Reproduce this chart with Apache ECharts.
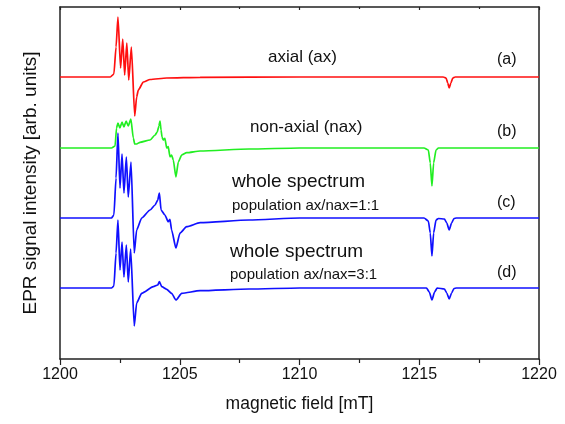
<!DOCTYPE html>
<html>
<head>
<meta charset="utf-8">
<script src="https://cdn.jsdelivr.net/npm/echarts@6/dist/echarts.min.js"></script>
<style>
  html, body { margin: 0; padding: 0; background: #fff; }
  #chart { width: 565px; height: 424px; }
</style>
</head>
<body>
<div id="chart"></div>
<script>
// EPR spectra: [magnetic field (mT), signal (arb. units)] relative to each trace's own baseline
const spectrumAx = [
  [1200, 0], [1202.10, 0], [1202.25, 3], [1202.34, 30], [1202.42, 60],
  [1202.53, 9], [1202.62, 38], [1202.70, 2], [1202.79, 34], [1202.87, -3],
  [1202.98, 30], [1203.12, -39], [1203.20, -20], [1203.27, -13], [1203.48, -5],
  [1203.76, -2.5], [1204.45, -1], [1205.85, -0.4], [1210, 0],
  [1216.00, 0], [1216.12, -1], [1216.19, -6], [1216.25, -11], [1216.32, -6],
  [1216.40, -1], [1216.50, 0], [1220, 0]
];

const spectrumNax = [
  [1200, 0], [1202.15, 0], [1202.30, 2], [1202.36, 20], [1202.42, 25],
  [1202.50, 20], [1202.59, 26], [1202.67, 21], [1202.76, 27], [1202.85, 22],
  [1202.96, 29], [1203.06, 10], [1203.12, 4], [1203.20, 4], [1203.34, 5.7],
  [1203.76, 8], [1203.97, 13], [1204.06, 16], [1204.13, 22], [1204.175, 27],
  [1204.22, 18], [1204.26, 11], [1204.31, 8], [1204.38, 9.7], [1204.455, 0],
  [1204.52, 1.3], [1204.59, -8.7], [1204.66, -7], [1204.73, -12], [1204.84, -29],
  [1204.94, -14], [1205.08, -7], [1205.29, -4.7], [1205.85, -3], [1207.90, -1],
  [1210, 0], [1215.20, 0], [1215.38, -2], [1215.46, -15], [1215.53, -38],
  [1215.60, -15], [1215.70, -2], [1215.80, 0], [1220, 0]
];

const spectrumMix11 = [
  [1200, 0], [1202.15, 0], [1202.25, 3], [1202.34, 40], [1202.42, 85],
  [1202.505, 30], [1202.59, 64], [1202.67, 25], [1202.77, 61], [1202.85, 21],
  [1202.965, 56], [1203.10, -35], [1203.20, -12], [1203.41, 0], [1203.76, 8],
  [1203.97, 13], [1204.08, 18], [1204.15, 25], [1204.22, 8], [1204.38, 3],
  [1204.52, -3.7], [1204.59, -1.3], [1204.66, -12], [1204.84, -30], [1205.01, -15],
  [1205.29, -8.7], [1205.85, -4.7], [1207.90, -2], [1210, 0],
  [1215.20, 0], [1215.38, -3], [1215.46, -15], [1215.53, -38], [1215.60, -15],
  [1215.70, -2], [1215.80, -0.5], [1216.05, -1], [1216.15, -5], [1216.25, -12],
  [1216.35, -5], [1216.45, -0.5], [1216.55, 0], [1220, 0]
];

const spectrumMix31 = [
  [1200, 0], [1202.15, 0], [1202.25, 2], [1202.34, 35], [1202.42, 68],
  [1202.505, 18], [1202.59, 46], [1202.67, 11], [1202.77, 43], [1202.85, 6],
  [1202.95, 39], [1203.10, -38], [1203.20, -15], [1203.41, -5.3], [1203.90, 1.3],
  [1204.08, 3], [1204.15, 6.3], [1204.25, 1.3], [1204.455, -1.3], [1204.66, -5.3],
  [1204.84, -12], [1205.08, -5.3], [1205.85, -2.7], [1207.90, -1], [1210, 0],
  [1215.30, 0], [1215.42, -4], [1215.53, -12], [1215.64, -4], [1215.75, 0],
  [1216.05, -1], [1216.15, -5], [1216.25, -11], [1216.35, -5], [1216.45, -0.5],
  [1216.55, 0], [1220, 0]
];

// vertical offsets stacking the four traces
const baselines = [282, 211, 141, 71];
const traceColors = ['#ff1010', '#22ee22', '#1010ff', '#1010ff'];
const traceTags = ['(a)', '(b)', '(c)', '(d)'];

const spectra = [spectrumAx, spectrumNax, spectrumMix11, spectrumMix31];

const chart = echarts.init(document.getElementById('chart'), null, { renderer: 'canvas' });

const FONT = '"Liberation Sans", Arial, sans-serif';
const axisDark = '#222';

const series = spectra.map((s, i) => ({
  type: 'line',
  xAxisIndex: 0,
  yAxisIndex: 0,
  data: s.map(p => [p[0], p[1] + baselines[i]]),
  showSymbol: false,
  symbol: 'none',
  smooth: 0.2,
  smoothMonotone: 'x',
  lineStyle: { color: traceColors[i], width: 1.7 },
  z: 2,
  silent: true,
  animation: false
}));

function txt(left, top, text, size) {
  return {
    type: 'text', left: left, top: top,
    style: { text: text, font: size + 'px ' + FONT, fill: '#111' }
  };
}

const option = {
  animation: false,
  backgroundColor: '#fff',
  grid: { left: 60, right: 26, top: 7, bottom: 65, containLabel: false, outerBoundsMode: 'none' },
  xAxis: [{
    type: 'value', position: 'bottom', min: 1200, max: 1220, interval: 5,
    axisLine: { show: true, onZero: false, lineStyle: { color: axisDark, width: 1.5 } },
    axisTick: { show: true, inside: false, length: 6, lineStyle: { color: axisDark, width: 1.2 } },
    minorTick: { show: true, splitNumber: 2, length: 4, lineStyle: { color: axisDark, width: 1.2 } },
    splitLine: { show: false },
    axisLabel: { color: '#111', fontSize: 16, fontFamily: FONT, margin: 8, formatter: v => String(v) },
    name: 'magnetic field [mT]', nameLocation: 'middle', nameGap: 36,
    nameTextStyle: { color: '#111', fontSize: 17.5, fontFamily: FONT }
  }, {
    type: 'value', position: 'top', min: 1200, max: 1220, interval: 5,
    axisLine: { show: true, onZero: false, lineStyle: { color: axisDark, width: 1.5 } },
    axisTick: { show: true, inside: true, length: 3, lineStyle: { color: axisDark, width: 1.2 } },
    minorTick: { show: true, splitNumber: 2, length: 2, lineStyle: { color: axisDark, width: 1.2 } },
    splitLine: { show: false },
    axisLabel: { show: false }
  }],
  yAxis: [{
    type: 'value', position: 'left', min: 0, max: 352,
    axisLine: { show: true, onZero: false, lineStyle: { color: axisDark, width: 1.5 } },
    axisTick: { show: false }, axisLabel: { show: false }, splitLine: { show: false },
    name: 'EPR signal intensity [arb. units]', nameLocation: 'middle', nameGap: 20, nameRotate: 90,
    nameTextStyle: { color: '#111', fontSize: 19, fontFamily: FONT }
  }, {
    type: 'value', position: 'right', min: 0, max: 352,
    axisLine: { show: true, onZero: false, lineStyle: { color: axisDark, width: 1.5 } },
    axisTick: { show: false }, axisLabel: { show: false }, splitLine: { show: false }
  }],
  series: series,
  graphic: [
    txt(268, 49, 'axial (ax)', 17),
    txt(250, 119, 'non-axial (nax)', 17),
    txt(232, 172, 'whole spectrum', 19),
    txt(232, 198, 'population ax/nax=1:1', 15),
    txt(230, 242, 'whole spectrum', 19),
    txt(230, 267, 'population ax/nax=3:1', 15),
    txt(497, 52, traceTags[0], 16),
    txt(497, 124, traceTags[1], 16),
    txt(497, 195, traceTags[2], 16),
    txt(497, 265, traceTags[3], 16)
  ]
};

chart.setOption(option);
</script>
</body>
</html>
